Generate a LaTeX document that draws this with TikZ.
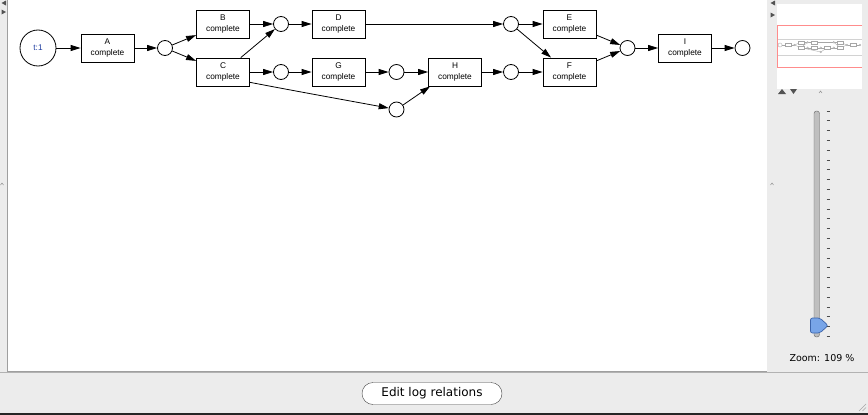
\documentclass[tikz,border=0pt]{standalone}
\usepackage{fontspec}
\setmainfont{Liberation Sans}
\newfontfamily\dejavu{DejaVu Sans}
\usetikzlibrary{arrows.meta,calc}
\definecolor{panelgray}{RGB}{236,236,236}
\definecolor{tokblue}{RGB}{30,60,160}
\definecolor{thumbblue}{RGB}{120,165,232}
\definecolor{thumbedge}{RGB}{60,100,170}
\begin{document}
\begin{tikzpicture}[x=1pt,y=-1pt,
  trans/.style={draw=black, line width=0.8pt, fill=white, minimum width=53pt, minimum height=28pt,
    inner sep=0pt, align=center, font=\fontsize{8.3}{10.5}\selectfont},
  place/.style={circle, draw=black, line width=0.8pt, fill=white, minimum size=15pt, inner sep=0pt},
  arc/.style={line width=0.8pt, -{Triangle[length=10pt,width=6pt]}},
  mini/.style={draw=gray!70, line width=0.35pt},
  glyph/.style={fill=gray!65!black},
]
\useasboundingbox (0,0) rectangle (868,415);
% backgrounds
\fill[panelgray] (0,0) rectangle (868,415);
\fill[white] (7,0) rectangle (767,371);
\draw[gray!75] (7.5,0) -- (7.5,371.5) -- (767,371.5);
\draw[gray!60] (0,372.5) -- (868,372.5);
\fill[black!85] (0,412.5) rectangle (868,415);
% splitter glyphs
\fill[glyph] (6,0.5) -- (1.5,3) -- (6,5.5) -- cycle;
\fill[glyph] (1.5,9.5) -- (6,12) -- (1.5,14.5) -- cycle;
\fill[glyph] (775,0.5) -- (770.5,3) -- (775,5.5) -- cycle;
\fill[glyph] (770.5,12.5) -- (775,15) -- (770.5,17.5) -- cycle;
\draw[gray] (0.5,185) -- (2,183) -- (3.5,185);
\draw[gray] (770.5,185) -- (772,183) -- (773.5,185);
% ---------------- net ----------------
\node[place, minimum size=36pt, text=tokblue, font=\fontsize{8.3}{10}\selectfont] (t1) at (38,48) {t:1};
\node[trans] (A) at (107.5,48) {A\\complete};
\node[place] (p1) at (165,48) {};
\node[trans] (B) at (223,24) {B\\complete};
\node[trans] (C) at (223,72) {C\\complete};
\node[place] (pB) at (281,24) {};
\node[place] (pC) at (281,72) {};
\node[trans] (D) at (338.5,24) {D\\complete};
\node[trans] (G) at (338.5,72) {G\\complete};
\node[place] (pG) at (396.5,72) {};
\node[place] (pL) at (396.5,109.5) {};
\node[trans] (H) at (455,72) {H\\complete};
\node[place] (pD) at (511,24) {};
\node[place] (pH) at (511,72) {};
\node[trans] (E) at (569.5,24) {E\\complete};
\node[trans] (F) at (569.5,72) {F\\complete};
\node[place] (pM) at (627.5,48) {};
\node[trans] (I) at (685,48) {I\\complete};
\node[place] (pE) at (742.5,48) {};

\draw[arc] (t1) -- (A);
\draw[arc] (A) -- (p1);
\draw[arc] (p1) -- (B);
\draw[arc] (p1) -- (C);
\draw[arc] (B) -- (pB);
\draw[arc] (C.39) -- (pB);
\draw[arc] (C) -- (pC);
\draw[arc] (C.-21) .. controls (295,91) and (345,100) .. (pL);
\draw[arc] (pL) -- (H.-150);
\draw[arc] (pB) -- (D);
\draw[arc] (D) -- (pD);
\draw[arc] (pC) -- (G);
\draw[arc] (G) -- (pG);
\draw[arc] (pG) -- (H);
\draw[arc] (H) -- (pH);
\draw[arc] (pD) -- (E);
\draw[arc] (pD) -- (F.142);
\draw[arc] (pH) -- (F);
\draw[arc] (E) -- (pM);
\draw[arc] (F) -- (pM);
\draw[arc] (pM) -- (I);
\draw[arc] (I) -- (pE);
% ---------------- overview ----------------
\fill[white] (777,4) rectangle (862,89);
\draw[gray!35] (777,39) -- (862,39) (777,55) -- (862,55);
\draw[red!45, line width=0.8pt] (862,25.5) -- (777.5,25.5) -- (777.5,67.5) -- (862,67.5);
\begin{scope}[shift={(775.7,39.55)}, scale=0.1135]
  \foreach \ax/\ay/\bx/\by in {38/48/107.5/48, 107.5/48/165/48, 165/48/223/24, 165/48/223/72,
     223/24/281/24, 223/72/281/24, 223/72/281/72, 223/72/396.5/109.5, 396.5/109.5/455/72,
     281/24/338.5/24, 338.5/24/511/24, 281/72/338.5/72, 338.5/72/396.5/72, 396.5/72/455/72,
     455/72/511/72, 511/24/569.5/24, 511/24/569.5/72, 511/72/569.5/72, 569.5/24/627.5/48,
     569.5/72/627.5/48, 627.5/48/685/48, 685/48/742.5/48}
    \draw[mini] (\ax,\ay) -- (\bx,\by);
  \foreach \cx/\cy in {107.5/48, 223/24, 223/72, 338.5/24, 338.5/72, 455/72, 569.5/24, 569.5/72, 685/48}
    \filldraw[mini, fill=white] (\cx-26.5,\cy-14) rectangle (\cx+26.5,\cy+14);
  \foreach \cx/\cy in {165/48, 281/24, 281/72, 396.5/72, 396.5/109.5, 511/24, 511/72, 627.5/48, 742.5/48}
    \filldraw[mini, fill=white] (\cx,\cy) circle[radius=7.5];
  \filldraw[mini, fill=white] (38,48) circle[radius=18];
\end{scope}
\fill[glyph] (778,94) -- (782,89) -- (786,94) -- cycle;
\fill[glyph] (790,89) -- (797,89) -- (793.5,94) -- cycle;
\draw[gray] (819,93) -- (820.5,91) -- (822,93);
% ---------------- slider ----------------
\filldraw[fill=gray!50, draw=gray!75!black, rounded corners=2.5pt] (814,111) rectangle (819.5,337);
\foreach \i in {0,...,23}
  \draw[gray!60!black, line width=0.7pt] (826.5,{111+9.8*\i}) -- (830,{111+9.8*\i});
\filldraw[fill=thumbblue, draw=thumbedge, line width=0.7pt, rounded corners=2pt]
  (810.5,318) -- (820,318) -- (828,325.5) -- (820,333) -- (810.5,333) -- cycle;
\node[font=\dejavu\fontsize{9.5}{11}\selectfont] (zoomlbl) at (822,358) {Zoom: 109 \%};
% ---------------- button ----------------
\node[draw=gray!55!black, fill=white, rounded corners=11pt, minimum width=140pt, minimum height=22pt,
  inner sep=0pt, font=\dejavu\fontsize{12}{14}\selectfont] (edit) at (432,393.5) {Edit log relations};
% resize grip
\draw[gray!70] (859,411) -- (866,404) (862.5,411) -- (866,407.5);
\end{tikzpicture}
\end{document}
